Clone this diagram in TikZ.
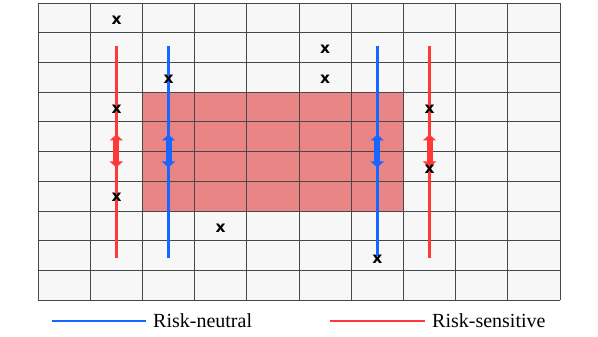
\documentclass[tikz,border=0pt]{standalone}
\usepackage{fontspec}
\setmainfont{Liberation Serif}
\newfontfamily\markfont{DejaVu Sans}
\usetikzlibrary{arrows.meta,positioning,calc}
\definecolor{rsred}{HTML}{FF3838}
\definecolor{rnblue}{HTML}{1766FF}
\definecolor{cellbg}{HTML}{F7F7F7}
\definecolor{gridln}{HTML}{484848}
\definecolor{zone}{HTML}{E98585}
\tikzset{
  cell/.style={draw=gridln,line width=0.8pt},
  xmk/.style={font=\markfont\bfseries\fontsize{15.5}{16}\selectfont,inner sep=0pt},
  rs/.style={draw=rsred,line width=2.8pt},
  rn/.style={draw=rnblue,line width=2.8pt},
  dbl/.style={{Triangle[width=13pt,length=6pt]}-{Triangle[width=13pt,length=6pt]},line width=6pt},
  legtxt/.style={font=\fontsize{20}{20}\selectfont,anchor=west,inner sep=0pt},
}
\begin{document}
\begin{tikzpicture}[x=1pt,y=-1pt]
\useasboundingbox (0,0) rectangle (598,337);
% board and shaded zone
\fill[cellbg] (38,3) rectangle (560,300);
\fill[zone] (142.4,92.1) rectangle (403.8,211.9);
\foreach \i in {0,...,10}{
  \draw[cell] ({38+\i*52.2},3) -- ({38+\i*52.2},300);
  \draw[cell] (38,{3+\i*29.7}) -- (560,{3+\i*29.7});
}
% paths
\coordinate (rsLtop) at (116.3,46.5); \coordinate (rsLbot) at (116.3,258);
\coordinate (rnLtop) at (168.5,46.5); \coordinate (rnLbot) at (168.5,258);
\coordinate (rnRtop) at (377.3,46.5); \coordinate (rnRbot) at (377.3,256);
\coordinate (rsRtop) at (429.5,46.5); \coordinate (rsRbot) at (429.5,258);
\draw[rs] (rsLtop) -- (rsLbot);
\draw[rn] (rnLtop) -- (rnLbot);
\draw[rn] (rnRtop) -- (rnRbot);
\draw[rs] (rsRtop) -- (rsRbot);
% double arrows
\foreach \c/\s in {116.3/rs,168.5/rn,377.3/rn,429.5/rs}{
  \coordinate (up) at (\c,134.5); \coordinate (dn) at (\c,167.5);
  \draw[\s,dbl] (up) -- (dn);
}
% markers
\node[xmk] (m1) at (116.5,20) {x};
\node[xmk] (m2) at (168.5,79) {x};
\node[xmk] (m3) at (116.5,109.5) {x};
\node[xmk] (m4) at (116.5,197.5) {x};
\node[xmk] (m5) at (220.7,228.5) {x};
\node[xmk] (m6) at (325.1,49.5) {x};
\node[xmk] (m7) at (325.1,79) {x};
\node[xmk] (m8) at (429.5,109.5) {x};
\node[xmk] (m9) at (429.5,169) {x};
\node[xmk] (m10) at (377.3,259.5) {x};
% legend
\coordinate (lgRNa) at (51.5,321); \coordinate (lgRNb) at (145.5,321);
\coordinate (lgRSa) at (330,321); \coordinate (lgRSb) at (424.5,321);
\draw[rn] (lgRNa) -- (lgRNb);
\node[legtxt,right=7.5pt of lgRNb] (lgRN) {Risk-neutral};
\draw[rs] (lgRSa) -- (lgRSb);
\node[legtxt,right=7.5pt of lgRSb] (lgRS) {Risk-sensitive};
\end{tikzpicture}
\end{document}
